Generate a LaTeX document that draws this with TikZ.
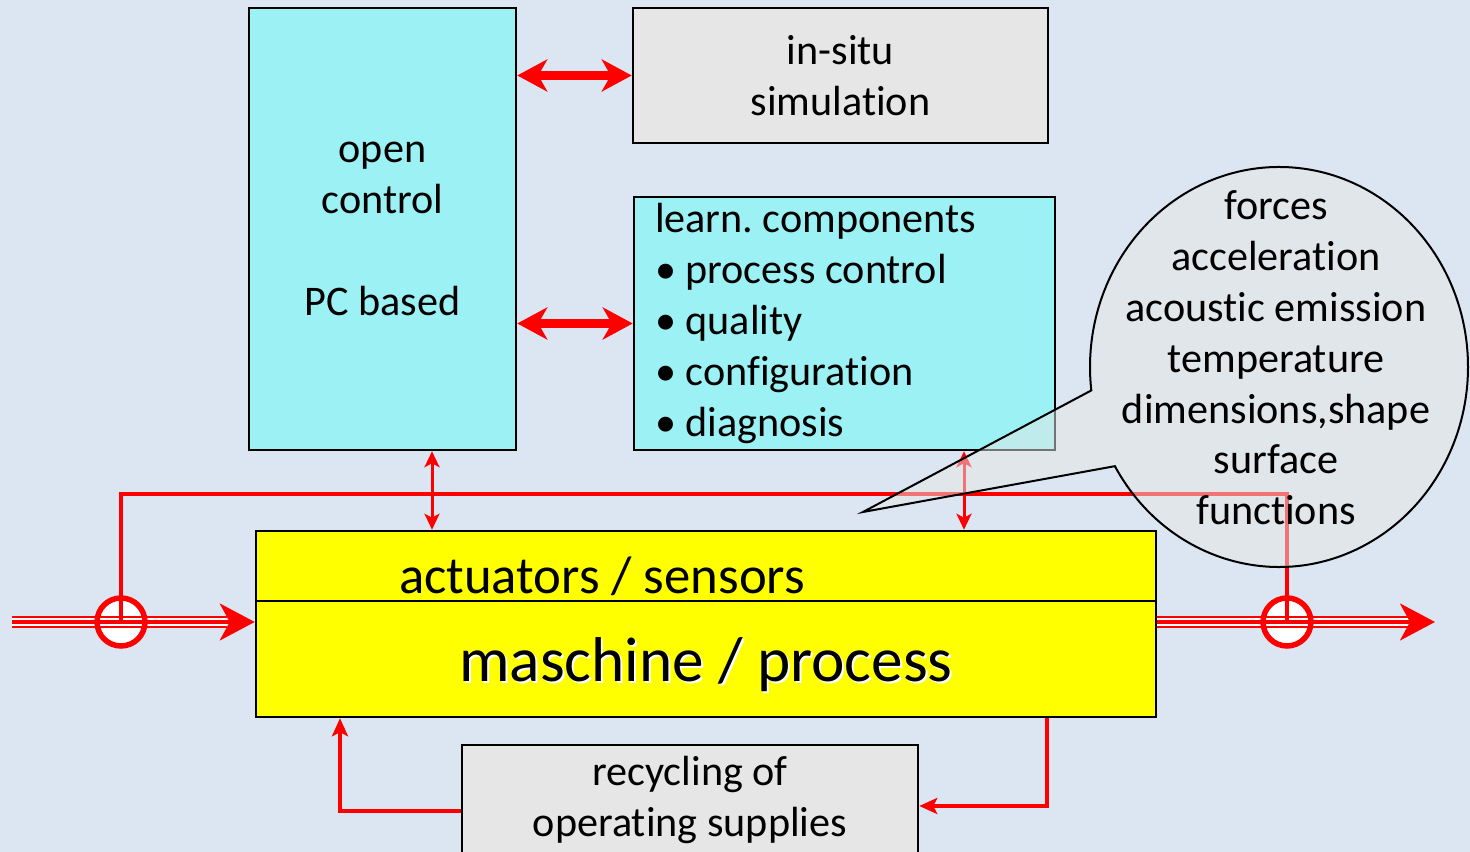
\documentclass[tikz,border=0pt]{standalone}
\usepackage{fontspec}
\setmainfont{Carlito}[RawFeature={-liga;-dlig;-calt;-clig}]
\usetikzlibrary{arrows.meta}
\usetikzlibrary{calc}
\usetikzlibrary{positioning}
\usetikzlibrary{shapes.callouts}
\frenchspacing

\definecolor{bgblue}{HTML}{DCE6F2}
\definecolor{boxcyan}{HTML}{9BF1F4}
\definecolor{boxgray}{HTML}{E6E6E6}
\definecolor{machyellow}{HTML}{FFFF00}

\begin{document}
\begin{tikzpicture}[
  every node/.style = {font=\fontsize{24}{28.9}\selectfont},
  box/.style = {draw, line width=0.05cm, inner sep=0pt, align=center},
  cyanbox/.style = {box, fill=boxcyan},
  graybox/.style = {box, fill=boxgray},
  bigarrow/.style = {red, line width=0.18cm, <->,
    >={Stealth[length=0.6cm,width=0.64cm,inset=0.18cm]}},
  smallarrow/.style = {red, line width=0.06cm, <->,
    >={Stealth[length=0.32cm,width=0.3cm,inset=0.08cm]}},
  loopline/.style = {red, line width=0.08cm, ->,
    >={Stealth[length=0.36cm,width=0.32cm,inset=0.08cm]}},
  feed/.style = {red, line width=0.09cm},
  triple/.style = {red, line width=0.24cm, shorten >=0.55cm},
  triplegap/.style = {white, line width=0.15cm, shorten >=0.55cm},
  triplecore/.style = {red, line width=0.07cm, ->,
    >={Stealth[length=0.7cm,width=0.74cm,inset=0.2cm]}},
  sumfill/.style = {circle, fill=white, minimum size=0.96cm, inner sep=0pt},
  sumring/.style = {red, line width=0.11cm},
  bubble/.style = {ellipse callout, draw, line width=0.04cm,
    fill=boxgray, fill opacity=0.5, draw opacity=1,
    minimum width=7.56cm, minimum height=8cm, inner sep=0pt,
    callout pointer arc=23}
  ]
  \fill[bgblue] (0,0) rectangle (29.4,17.04);
  \useasboundingbox (0,0) rectangle (29.4,17.04);

  \node[cyanbox, minimum width=5.34cm, minimum height=8.84cm] (ctrl) at (7.65,12.46) {open\\control\\[28.9pt]PC based};
  \node[graybox, minimum width=8.3cm, minimum height=2.7cm] (sim) at (16.81,15.53) {in-situ\\simulation};
  \node[cyanbox, text width=7.58cm, align=flush left, inner xsep=0.42cm, minimum height=5.06cm] (learn) at (16.89,10.57)
    {learn. components\\\textbullet\ process control\\\textbullet\ quality\\\textbullet\ configuration\\\textbullet\ diagnosis};
  \node[box, fill=machyellow, minimum width=18cm, minimum height=3.72cm] (mach) at (14.12,4.56) {};
  \node[graybox, minimum width=9.12cm, minimum height=2.2cm] (recyc) at (13.8,1.04) {recycling of\\operating supplies};

  % machine box inside
  \coordinate (@div) at (0,5.02);
  \draw[line width=0.04cm] (mach.west |- @div) -- (mach.east |- @div);
  \node[font=\fontsize{30}{36}\selectfont] (acts) at (12.04,5.52) {actuators / sensors};
  \node[white, font=\fontsize{36}{43}\selectfont] (machglow) at (14.16,3.70) {maschine / process};
  \node[font=\fontsize{36}{43}\selectfont] (machtext) at (14.12,3.74) {maschine / process};

  \draw[bigarrow] (ctrl.east |- sim.west) -- (sim.west);
  \draw[bigarrow] (ctrl.east |- learn.west) -- (learn.west);

  \coordinate (@a) at (8.64,0);
  \coordinate (@b) at (19.28,0);
  \draw[smallarrow] (ctrl.south -| @a) -- (mach.north -| @a);
  \draw[smallarrow] (learn.south -| @b) -- (mach.north -| @b);

  % material flow with feedback
  \node[sumfill] (lsum) at (2.42,4.6) {};
  \node[sumfill] (rsum) at (25.74,4.6) {};
  \coordinate (@in) at (0.24,4.6);
  \coordinate (@out) at (28.7,4.6);
  \draw[triple] (@in) -- (mach.west |- @in);
  \draw[triplegap] (@in) -- (mach.west |- @in);
  \draw[triplecore] (@in) -- (mach.west |- @in);
  \draw[triple] (mach.east |- @out) -- (@out);
  \draw[triplegap] (mach.east |- @out) -- (@out);
  \draw[triplecore] (mach.east |- @out) -- (@out);
  \draw[sumring] (lsum.center) circle (0.48cm);
  \draw[sumring] (rsum.center) circle (0.48cm);
  \coordinate (@top) at (0,7.16);
  \draw[feed] (lsum.center) |- (@top -| rsum) -- (rsum.center);

  \coordinate (@rl) at (20.94,0.92);
  \coordinate (@ll) at (6.8,0.82);
  \draw[loopline] (mach.south -| @rl) |- (recyc.east |- @rl);
  \draw[loopline] (recyc.west |- @ll) -| (mach.south -| @ll);

  \coordinate (@tip) at (17.26,6.8);
  \node[bubble, callout absolute pointer={(@tip)}] (bubble) at (25.58,9.7) {};
  \node[align=center] (sensing) at (25.52,9.88)
    {forces\\acceleration\\acoustic emission\\temperature\\dimensions,shape\\surface\\functions};

\end{tikzpicture}
\end{document}
